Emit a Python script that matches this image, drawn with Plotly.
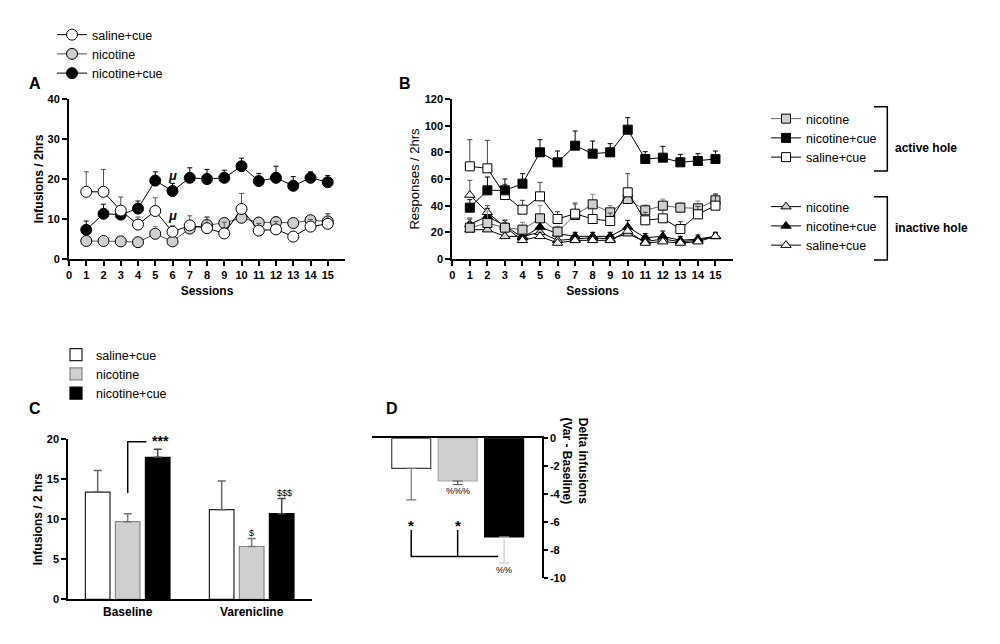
import plotly.graph_objects as go

# ---- data ----
sessions = list(range(1, 16))

# Panel A: infusions / 2hrs, mean and upper SEM
a_saline_cue = [16.8, 16.8, 12.1, 8.6, 12.0, 6.8, 8.4, 7.7, 6.4, 12.5, 7.1, 7.4, 5.6, 8.1, 8.8]
a_saline_cue_sem = [5.0, 5.6, 3.4, 1.9, 3.3, 1.5, 2.4, 2.7, 2.8, 3.9, 1.8, 2.0, 0.8, 1.8, 2.5]
a_nicotine = [4.5, 4.5, 4.4, 4.2, 6.3, 4.4, 7.6, 8.5, 9.0, 10.3, 9.1, 9.2, 9.0, 9.7, 9.4]
a_nicotine_sem = [0.4, 0.4, 0.4, 0.9, 1.8, 0.5, 1.8, 2.1, 1.0, 1.2, 1.3, 1.4, 0.7, 1.0, 1.9]
a_nic_cue = [7.3, 11.3, 11.1, 12.6, 19.6, 17.0, 20.3, 20.0, 20.3, 23.2, 19.5, 20.3, 18.3, 20.3, 19.2]
a_nic_cue_sem = [2.2, 2.4, 0.9, 1.9, 2.2, 1.9, 2.5, 2.4, 1.9, 2.0, 1.9, 2.9, 2.3, 1.5, 1.7]

# Panel B: responses / 2hrs, active hole
b_act_nicotine = [23.5, 27.0, 23.5, 22.0, 30.5, 20.5, 33.0, 41.0, 35.0, 45.0, 36.5, 40.0, 38.5, 38.0, 44.0]
b_act_nicotine_sem = [7.5, 9.0, 6.0, 5.5, 9.5, 4.0, 8.0, 7.5, 5.0, 4.0, 4.0, 5.0, 3.5, 5.5, 5.0]
b_act_nic_cue = [38.5, 51.5, 51.5, 56.5, 80.0, 72.5, 85.0, 79.0, 80.0, 97.0, 75.0, 76.0, 72.5, 73.5, 75.0]
b_act_nic_cue_sem = [6.0, 10.0, 8.5, 7.5, 9.5, 8.5, 11.0, 9.5, 6.5, 9.0, 5.5, 8.5, 6.0, 5.5, 6.0]
b_act_saline_cue = [69.5, 68.0, 48.0, 37.0, 47.0, 30.0, 34.0, 30.0, 28.5, 50.0, 29.0, 30.5, 22.5, 33.5, 40.0]
b_act_saline_cue_sem = [20.0, 21.0, 8.0, 7.0, 10.5, 5.5, 8.0, 8.0, 6.0, 14.0, 6.0, 6.0, 5.5, 6.0, 8.5]

# Panel B: inactive hole
b_ina_nicotine = [22, 22, 17, 17, 20, 14, 15, 16, 15, 19, 13, 15, 13, 14, 17]
b_ina_nicotine_sem = [3, 3, 2, 2, 3, 2, 2, 2, 2, 3, 2, 2, 2, 2, 2]
b_ina_nic_cue = [26, 32, 25, 16, 24, 19, 17, 17, 17, 24, 16, 17, 14, 15, 17]
b_ina_nic_cue_sem = [4, 6, 4, 3, 4, 3, 3, 3, 3, 5, 3, 4, 3, 3, 3]
b_ina_saline_cue = [48, 35, 24, 14, 17, 12, 14, 14, 14, 21, 12, 13, 12, 13, 17]
b_ina_saline_cue_sem = [11, 5, 3, 2, 3, 2, 2, 2, 2, 3, 2, 2, 2, 2, 2]

# Panel C: infusions / 2 hrs
c_groups = ["Baseline", "Varenicline"]
c_saline_cue = [13.4, 11.2]
c_saline_cue_sem = [2.7, 3.6]
c_nicotine = [9.7, 6.6]
c_nicotine_sem = [1.0, 1.0]
c_nic_cue = [17.75, 10.7]
c_nic_cue_sem = [1.0, 1.9]

# Panel D: delta infusions (Var - Baseline)
d_groups = ["saline+cue", "nicotine", "nicotine+cue"]
d_delta = [-2.15, -3.05, -7.05]
d_delta_sem = [2.25, 0.25, 1.85]
d_ticks = [0, -2, -4, -6, -8, -10]
d_ticklabels = ["0", "-2", "-4", "-6", "-8", "-10"]

FONT = "Arial, Liberation Sans, sans-serif"
GRAY = "#cfcfcf"
zeros15 = [0] * 15

fig = go.Figure()


def line_trace(y, sem, name, legend, xa, ya, symbol, fill, size, errcolor, rank, linecolor="black"):
    return go.Scatter(
        x=sessions, y=y, name=name, legend=legend, xaxis=xa, yaxis=ya, legendrank=rank,
        mode="lines+markers",
        marker=dict(symbol=symbol, size=size, color=fill, line=dict(color="black", width=1)),
        line=dict(color=linecolor, width=1),
        error_y=dict(type="data", symmetric=False, array=sem, arrayminus=zeros15,
                     color=errcolor, thickness=1, width=2.5),
        showlegend=True,
    )


# A (drawn black, gray, white on top)
fig.add_trace(line_trace(a_nic_cue, a_nic_cue_sem, "nicotine+cue", "legend", "x", "y", "circle", "black", 11, "black", 3))
fig.add_trace(line_trace(a_nicotine, a_nicotine_sem, "nicotine", "legend", "x", "y", "circle", GRAY, 11, "#888888", 2, "#555555"))
fig.add_trace(line_trace(a_saline_cue, a_saline_cue_sem, "saline+cue", "legend", "x", "y", "circle", "white", 11, "#555555", 1))

# B inactive (triangles)
fig.add_trace(line_trace(b_ina_nicotine, b_ina_nicotine_sem, "nicotine", "legend3", "x2", "y2", "triangle-up", GRAY, 9, "#777777", 1))
fig.add_trace(line_trace(b_ina_nic_cue, b_ina_nic_cue_sem, "nicotine+cue", "legend3", "x2", "y2", "triangle-up", "black", 9, "black", 2))
fig.add_trace(line_trace(b_ina_saline_cue, b_ina_saline_cue_sem, "saline+cue", "legend3", "x2", "y2", "triangle-up", "white", 9, "#555555", 3))
# B active (squares)
fig.add_trace(line_trace(b_act_nicotine, b_act_nicotine_sem, "nicotine", "legend2", "x2", "y2", "square", GRAY, 9, "#888888", 1, "#666666"))
fig.add_trace(line_trace(b_act_saline_cue, b_act_saline_cue_sem, "saline+cue", "legend2", "x2", "y2", "square", "white", 9, "#444444", 3))
fig.add_trace(line_trace(b_act_nic_cue, b_act_nic_cue_sem, "nicotine+cue", "legend2", "x2", "y2", "square", "black", 9, "black", 2))

# C bars
for vals, sem, name, fill, edge, err in [
    (c_saline_cue, c_saline_cue_sem, "saline+cue", "white", "#222222", "#666666"),
    (c_nicotine, c_nicotine_sem, "nicotine", GRAY, "#888888", "#777777"),
    (c_nic_cue, c_nic_cue_sem, "nicotine+cue", "black", "black", "#444444"),
]:
    fig.add_trace(go.Bar(
        x=c_groups, y=vals, name=name, legend="legend4", xaxis="x3", yaxis="y3",
        marker=dict(color=fill, line=dict(color=edge, width=1.2)),
        error_y=dict(type="data", symmetric=False, array=sem, arrayminus=[0, 0],
                     color=err, thickness=1.5, width=4),
    ))

# D bars
for i, (fill, edge, err) in enumerate([("white", "#444444", "#777777"),
                                      (GRAY, "#aaaaaa", "#555555"),
                                      ("black", "black", "#cccccc")]):
    fig.add_trace(go.Bar(
        x=[d_groups[i]], y=[d_delta[i]], xaxis="x4", yaxis="y4", showlegend=False,
        width=0.84, offset=-0.42,
        marker=dict(color=fill, line=dict(color=edge, width=1.2)),
        error_y=dict(type="data", symmetric=False, array=[0], arrayminus=[d_delta_sem[i]],
                     color=err, thickness=1.2, width=5),
    ))


def ax(**kw):
    base = dict(showline=True, linecolor="black", linewidth=2, ticks="outside",
                tickcolor="black", tickwidth=2, ticklen=5, showgrid=False, zeroline=False,
                automargin=False,
                tickfont=dict(family=FONT, size=11, color="black", weight="bold"),
                title_font=dict(family=FONT, size=12, color="black", weight="bold"))
    base.update(kw)
    return base


h = 644.0
legend_font = dict(family=FONT, size=12.5, color="black")
fig.update_layout(
    width=1000, height=644, margin=dict(l=0, r=0, t=0, b=0, autoexpand=False),
    paper_bgcolor="white", plot_bgcolor="rgba(0,0,0,0)",
    font=dict(family=FONT, color="black"),
    barmode="group", bargap=0.274, bargroupgap=0.18,
    xaxis=ax(domain=[0.069, 0.345], anchor="y", range=[0, 16], tickvals=list(range(16)),
             title=dict(text="Sessions", standoff=6)),
    yaxis=ax(domain=[1 - 259 / h, 1 - 99 / h], anchor="x", range=[0, 40], tickvals=[0, 10, 20, 30, 40],
             title=dict(text="Infusions / 2hrs", standoff=1)),
    xaxis2=ax(domain=[0.4523, 0.733], anchor="y2", range=[0, 16], tickvals=list(range(16)),
              title=dict(text="Sessions", standoff=6)),
    yaxis2=ax(domain=[1 - 259 / h, 1 - 99 / h], anchor="x2", range=[0, 120],
              tickvals=[0, 20, 40, 60, 80, 100, 120],
              title=dict(text="Responses / 2hrs", standoff=2,
                         font=dict(family=FONT, size=13, color="black", weight="normal"))),
    xaxis3=ax(domain=[0.0683, 0.3117], anchor="y3", range=[-0.479, 1.484], ticks="",
              tickfont=dict(family=FONT, size=12, color="black", weight="bold")),
    yaxis3=ax(domain=[1 - 599.3 / h, 1 - 439.3 / h], anchor="x3", range=[0, 20],
              tickvals=[0, 5, 10, 15, 20],
              title=dict(text="Infusions / 2 hrs", standoff=2)),
    xaxis4=dict(domain=[0.372, 0.5417], anchor="y4", side="top", range=[-0.845, 2.81],
                showline=True, linecolor="black", linewidth=1.5, ticks="", automargin=False,
                showticklabels=False, showgrid=False, zeroline=False),
    yaxis4=ax(domain=[1 - 578.3 / h, 1 - 438.3 / h], anchor="x4", side="right", range=[-10, 0],
              tickvals=d_ticks, ticktext=d_ticklabels, ticklen=4),
    legend=dict(x=0.052, y=1 - 20 / h, xanchor="left", yanchor="top", traceorder="normal",
                font=legend_font, bgcolor="rgba(0,0,0,0)"),
    legend2=dict(x=0.766, y=1 - 104 / h, xanchor="left", yanchor="top",
                 font=legend_font, bgcolor="rgba(0,0,0,0)"),
    legend3=dict(x=0.766, y=1 - 192 / h, xanchor="left", yanchor="top",
                 font=legend_font, bgcolor="rgba(0,0,0,0)"),
    legend4=dict(x=0.056, y=1 - 340 / h, xanchor="left", yanchor="top",
                 font=legend_font, bgcolor="rgba(0,0,0,0)"),
)

# panel letters
for letter, px, py in [("A", 27, 73), ("B", 405, 73), ("C", 27, 408), ("D", 392, 408)]:
    fig.add_annotation(x=px / 1000, y=1 - py / h, xref="paper", yref="paper", text=letter,
                       showarrow=False, font=dict(family=FONT, size=16, color="black", weight="bold"))

# A: mu markers
for yv in [a_nic_cue[5] + 4.0, a_saline_cue[5] + 4.0]:
    fig.add_annotation(x=6, y=yv, xref="x", yref="y", text="<i>μ</i>", showarrow=False,
                       font=dict(family=FONT, size=13, color="black", weight="bold"))

# B legend brackets and labels
for top, bot, label in [(106.7, 171, "active hole"), (196.7, 260, "inactive hole")]:
    fig.add_shape(type="path", xref="paper", yref="paper",
                  path=f"M 0.874 {1 - top / h} L 0.8873 {1 - top / h} L 0.8873 {1 - bot / h} L 0.874 {1 - bot / h}",
                  line=dict(color="black", width=1.5))
    fig.add_annotation(x=0.893, y=1 - (top + bot) / 2 / h, xref="paper", yref="paper", text=label,
                       xanchor="left", showarrow=False,
                       font=dict(family=FONT, size=12, color="black", weight="bold"))

# C: significance bracket
c_low = c_nicotine[0] + c_nicotine_sem[0] + 2.6
fig.add_shape(type="path", xref="x3", yref="y3",
              path=f"M 0 {c_low} L 0 19.7 L 0.15 19.7", line=dict(color="black", width=1.5))
fig.add_annotation(x=0.265, y=19.8, xref="x3", yref="y3", text="***", showarrow=False,
                   font=dict(family=FONT, size=14, color="black", weight="bold"))
fig.add_annotation(x=1, y=c_nicotine[1] + c_nicotine_sem[1] + 0.7, xref="x3", yref="y3", text="$",
                   showarrow=False, font=dict(family=FONT, size=9, color="black"))
fig.add_annotation(x=1.265, y=c_nic_cue[1] + c_nic_cue_sem[1] + 0.75, xref="x3", yref="y3", text="$$$",
                   showarrow=False, font=dict(family=FONT, size=9, color="black"))

# D: annotations
fig.add_annotation(x=1, y=d_delta[1] - d_delta_sem[1] - 0.45, xref="x4", yref="y4", text="%%%",
                   showarrow=False, font=dict(family=FONT, size=9, color="black"))
fig.add_annotation(x=2, y=d_delta[2] - d_delta_sem[2] - 0.5, xref="x4", yref="y4", text="%%",
                   showarrow=False, font=dict(family=FONT, size=9, color="black"))
fig.add_shape(type="path", xref="x4", yref="y4",
              path="M 0 -6.55 L 0 -8.45 L 1.87 -8.45 M 1 -6.55 L 1 -8.45",
              line=dict(color="black", width=1.5))
for xv in [0, 1]:
    fig.add_annotation(x=xv, y=-6.25, xref="x4", yref="y4", text="*", showarrow=False,
                       font=dict(family=FONT, size=15, color="black", weight="bold"))
fig.add_annotation(x=0.575, y=1 - 506 / h, xref="paper", yref="paper",
                   text="Delta infusions<br>(Var - Baseline)", textangle=90, showarrow=False,
                   font=dict(family=FONT, size=12, color="black", weight="bold"))

fig.write_html("out.html", config={"displayModeBar": False},
               post_script="document.body.style.margin = '0';")
